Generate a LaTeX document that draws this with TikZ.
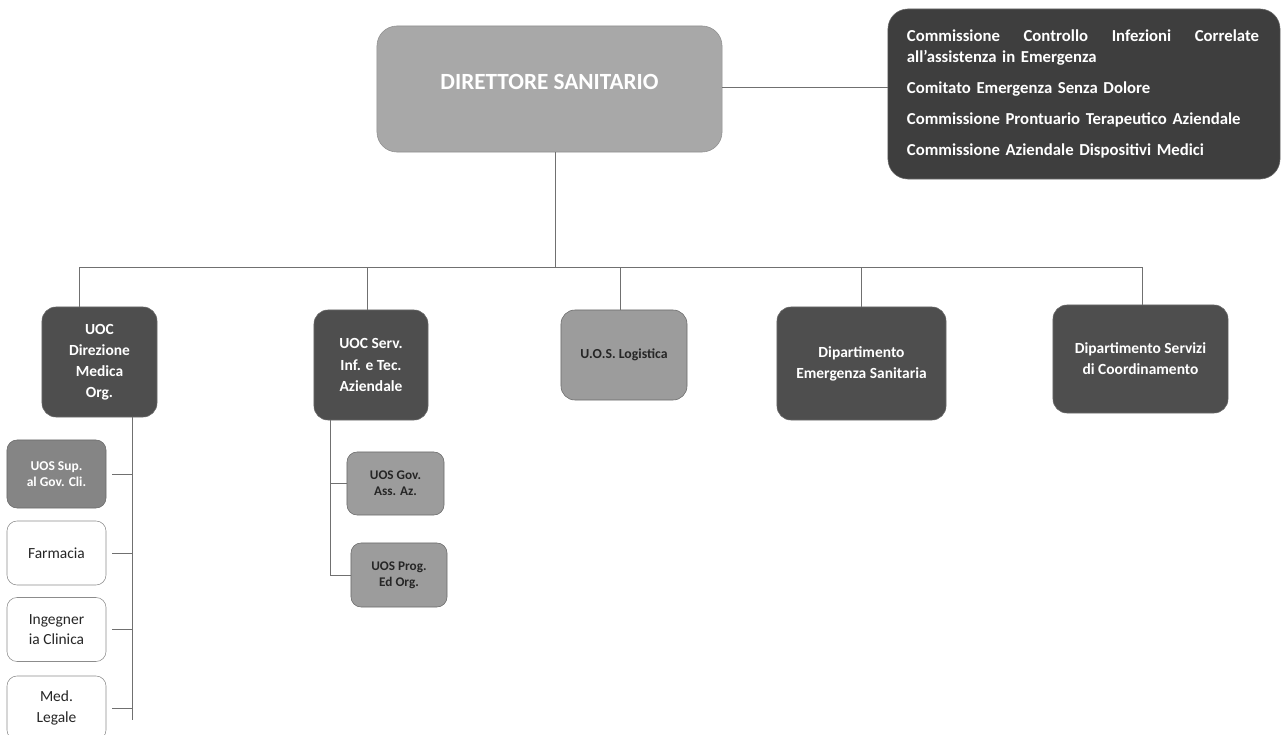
\documentclass[tikz,border=0pt]{standalone}
\usepackage{fontspec}
\setmainfont{Carlito}
\usepackage{xcolor}
\usepackage{tikz}
\usetikzlibrary{positioning}
\definecolor{dirfill}{HTML}{A8A8A8}
\definecolor{unitfill}{HTML}{4E4E4E}
\definecolor{comfill}{HTML}{3E3E3E}
\definecolor{midfill}{HTML}{9C9C9C}
\definecolor{supfill}{HTML}{858585}
\definecolor{edge}{HTML}{6A6A6A}
\definecolor{wire}{HTML}{707070}

\begin{document}
\begin{tikzpicture}[
  x=0.025cm, y=-0.025cm,
  box/.style={draw=edge, rounded corners=3.5mm, align=center, inner sep=2pt,
              fill=unitfill, text=white, font=\fontsize{11}{15}\selectfont\bfseries},
  top/.style={box, fill=dirfill, draw=dirfill!85!black, rounded corners=5mm,
              font=\fontsize{16.5}{18}\selectfont\bfseries},
  com/.style={box, fill=comfill, rounded corners=5mm, align=left, text width=8.85cm,
              font=\fontsize{11.9}{15}\selectfont\bfseries},
  grey/.style={box, fill=midfill, text=black!85, font=\fontsize{9.8}{12}\selectfont\bfseries},
  sub/.style={box, rounded corners=2.5mm, minimum width=2.475cm, minimum height=1.6cm,
              font=\fontsize{9.6}{11.5}\selectfont\bfseries},
  plain/.style={sub, fill=white, draw=black!45, text=black!85,
                font=\fontsize{11}{14.5}\selectfont},
  line/.style={draw=wire, line width=0.5pt}]
\useasboundingbox (0,0) rectangle (1285,735);
\node[top, minimum width=8.625cm, minimum height=3.15cm] (d) at (549.5,89) {};
\node[top, fill=none, draw=none, minimum size=0pt] (dt) at (549.5,82) {DIRETTORE SANITARIO};
\node[com, minimum width=9.8cm, minimum height=4.25cm] (c) at (1084,94)
  {\hbox to 8.8cm{Commissione\hfil Controllo\hfil Infezioni\hfil Correlate}\\
   all'assistenza in Emergenza\\[7pt]
   Comitato Emergenza Senza Dolore\\[7pt]
   Commissione Prontuario Terapeutico Aziendale\\[7pt]
   Commissione Aziendale Dispositivi Medici};
\node[box, minimum width=2.875cm, minimum height=2.75cm] (b1) at (99.5,362) {UOC\\Direzione\\Medica\\Org.};
\node[box, minimum width=2.85cm, minimum height=2.75cm] (b2) at (371,365) {UOC Serv.\\Inf. e Tec.\\Aziendale};
\node[grey, minimum width=3.15cm, minimum height=2.25cm] (b3) at (624,355) {U.O.S. Logistica};
\node[box, minimum width=4.225cm, minimum height=2.825cm] (b4) at (861.5,363.5) {Dipartimento\\Emergenza Sanitaria};
\node[box, minimum width=4.375cm, minimum height=2.7cm] (b5) at (1140.5,359) {Dipartimento Servizi\\di Coordinamento};
\node[sub, fill=supfill, minimum height=1.7cm] (s1) at (56.5,474) {UOS Sup.\\al Gov. Cli.};
\node[plain] (s2) at (56.5,553) {Farmacia};
\node[plain] (s3) at (56.5,629.5) {Ingegner\\ia Clinica};
\node[plain] (s4) at (56.5,708) {Med.\\Legale};
\node[sub, grey, rounded corners=2.5mm, minimum width=2.425cm, minimum height=1.575cm,
      font=\fontsize{9.4}{11.5}\selectfont\bfseries] (m1) at (395.5,483.5) {UOS Gov.\\Ass. Az.};
\node[sub, grey, rounded corners=2.5mm, minimum width=2.4cm,
      font=\fontsize{9.4}{11.5}\selectfont\bfseries] (m2) at (399,575) {UOS Prog.\\Ed Org.};
\coordinate (bus) at (555,267);
\coordinate (bl) at (79,267);
\coordinate (br) at (1142,267);
\coordinate (lv) at (132,720);
\coordinate (mv) at (330,582);
\draw[line] ([yshift=0.05cm]d.east) -- ([yshift=0.05cm]c.west |- d);
\draw[line] (d.south -| bus) -- (bus);
\draw[line] (b1.north -| bl) -- (bl) -- (br) -- (b5.north -| br);
\foreach \n/\s in {b2/-1mm,b3/-1mm,b4/0mm} \draw[line] ([xshift=\s]\n.north) -- ([xshift=\s]\n.north |- bus);
\draw[line] (b1.south -| lv) -- (lv);
\foreach \n in {s1,s2,s3,s4} \draw[line] ([xshift=1.5mm]\n.east) -- (\n.east -| lv);
\draw[line] (b2.south -| mv) |- (m2.west);
\draw[line] (m1.west) -- (m1.west -| mv);
\end{tikzpicture}
\end{document}
